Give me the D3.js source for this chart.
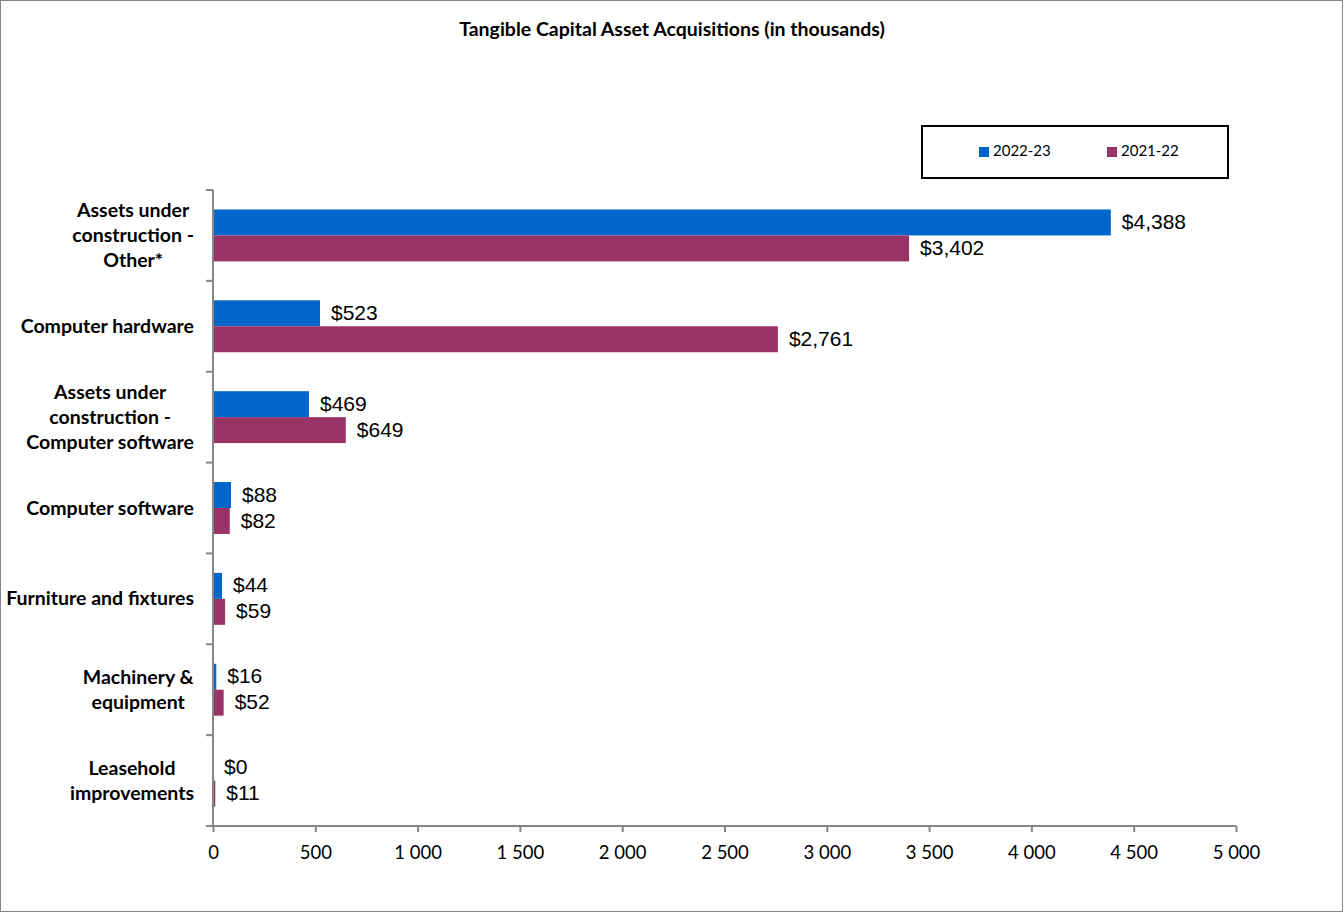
<!DOCTYPE html>
<html><head><meta charset="utf-8">
<script src="https://cdn.jsdelivr.net/npm/d3@7"></script>
<style>body{margin:0;background:#fff}svg{display:block}</style>
</head><body>
<script>
const categories = [
  ["Assets under", "construction -", "Other*"],
  ["Computer hardware"],
  ["Assets under", "construction -", "Computer software"],
  ["Computer software"],
  ["Furniture and fixtures"],
  ["Machinery &", "equipment"],
  ["Leasehold", "improvements"]
];
const series = ["2022-23", "2021-22"];
const values2022 = [4388, 523, 469, 88, 44, 16, 0];
const values2021 = [3402, 2761, 649, 82, 59, 52, 11];
const xTicks = [0, 500, 1000, 1500, 2000, 2500, 3000, 3500, 4000, 4500, 5000];
const colors = ["#0066CC", "#993366"];
const title = "Tangible Capital Asset Acquisitions (in thousands)";

const W = 1344, H = 913;
const svg = d3.select("body").append("svg").attr("width", W).attr("height", H);
svg.append("rect").attr("x", 0.5).attr("y", 0.5).attr("width", W - 2).attr("height", H - 2)
  .attr("fill", "#fff").attr("stroke", "#868686").attr("stroke-width", 1);

svg.append("text").attr("x", 672).attr("y", 31).attr("text-anchor", "middle").attr("dominant-baseline", "middle")
  .style("font-family", "Lato, 'Open Sans', sans-serif").style("font-weight", "bold").style("font-size", "19.5px")
  .text(title);

const pL = 213, pR = 1236, pT = 190, pB = 826;
const x = d3.scaleLinear().domain([0, 5000]).range([pL, pR]);
const idx = categories.map((d, i) => i);
const y = d3.scaleBand().domain(idx).range([pT, pB]).paddingInner(0).paddingOuter(0);
const inner = d3.scaleBand().domain(series).range([0, y.bandwidth()]).paddingInner(0).paddingOuter(0.75);

const data = idx.map(i => ({ i, vals: [values2022[i], values2021[i]] }));
const g = svg.append("g");
data.forEach(d => {
  d.vals.forEach((v, s) => {
    const yy = y(d.i) + inner(series[s]);
    g.append("rect").attr("x", x(0)).attr("y", yy).attr("width", x(v) - x(0))
      .attr("height", inner.bandwidth()).attr("fill", colors[s]);
    g.append("text").attr("x", x(v) + 11).attr("y", yy + inner.bandwidth() / 2 + 1)
      .attr("dominant-baseline", "middle")
      .style("font-family", "'Liberation Sans', Arial, sans-serif").style("font-size", "21px")
      .attr("fill", "#000").text("$" + d3.format(",")(v));
  });
});

// x axis
const xAxis = d3.axisBottom(x).tickValues(xTicks).tickSize(6).tickSizeOuter(0)
  .tickFormat(v => String(v).replace(/(\d)(?=(\d{3})$)/, "$1 "));
const xa = svg.append("g").attr("transform", `translate(0,${pB})`).call(xAxis);
xa.select(".domain").attr("stroke", "#868686").attr("stroke-width", 2).attr("d", `M${pL - 7},0H${pR}`);
xa.selectAll(".tick line").attr("stroke", "#868686").attr("stroke-width", 2);
xa.selectAll(".tick text").attr("dy", 0).attr("y", 33).attr("fill", "#000")
  .style("font-family", "Lato, 'Open Sans', sans-serif").style("font-size", "18.5px");

// y axis (ticks at band boundaries)
const ya = svg.append("g");
ya.append("line").attr("x1", pL).attr("x2", pL).attr("y1", pT).attr("y2", pB)
  .attr("stroke", "#868686").attr("stroke-width", 2);
idx.concat([idx.length]).forEach(i => {
  const yy = i < idx.length ? y(i) : pB;
  ya.append("line").attr("x1", pL - 7).attr("x2", pL).attr("y1", yy).attr("y2", yy)
    .attr("stroke", "#868686").attr("stroke-width", 2);
});
categories.forEach((lines, i) => {
  const cy = y(i) + y.bandwidth() / 2 + 1.5;
  const lh = 25;
  const t = ya.append("text").attr("text-anchor", "middle")
    .style("font-family", "Lato, 'Open Sans', sans-serif").style("font-weight", "bold").style("font-size", "19.5px");
  lines.forEach((ln, k) => {
    t.append("tspan").attr("x", 0).attr("y", cy + (k - (lines.length - 1) / 2) * lh).attr("dominant-baseline", "middle").text(ln);
  });
  const bb = t.node().getBBox();
  t.attr("transform", `translate(${194 - bb.width / 2},0)`);
});

// legend
const lg = svg.append("g");
lg.append("rect").attr("x", 922).attr("y", 126).attr("width", 306).attr("height", 52)
  .attr("fill", "#fff").attr("stroke", "#000").attr("stroke-width", 2);
const lx = [979, 1107];
series.forEach((s, k) => {
  lg.append("rect").attr("x", lx[k]).attr("y", 147).attr("width", 10).attr("height", 10).attr("fill", colors[k]);
  lg.append("text").attr("x", lx[k] + 14).attr("y", 152).attr("dominant-baseline", "middle")
    .style("font-family", "Lato, 'Open Sans', sans-serif").style("font-size", "15px").text(s);
});
</script>
</body></html>
